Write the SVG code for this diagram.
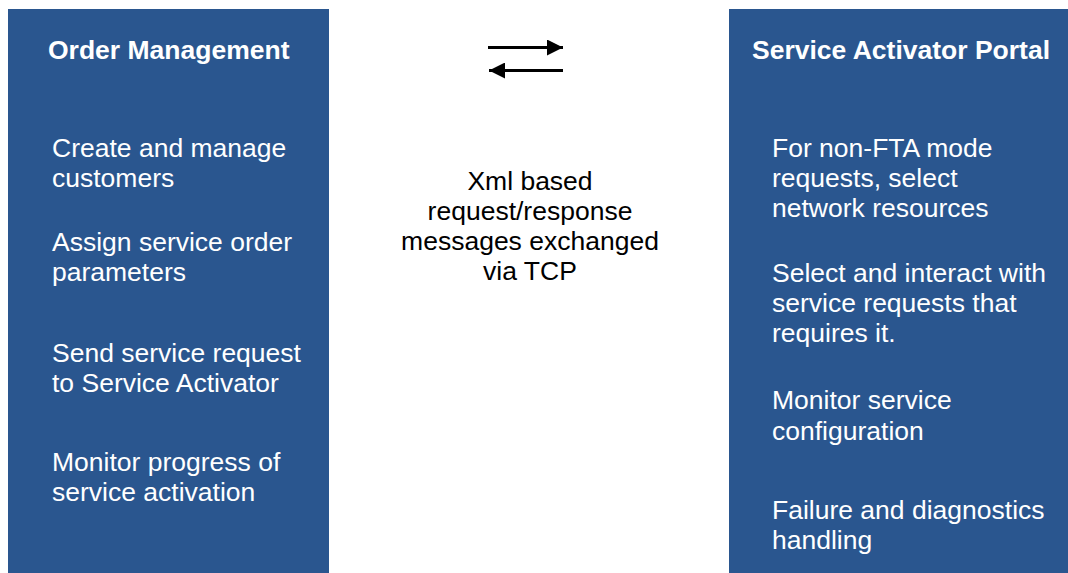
<svg xmlns="http://www.w3.org/2000/svg" width="1068" height="573" viewBox="0 0 1068 573">
<style>
.panel{fill:#2A568F}
.t{font-family:"Liberation Sans",Arial,sans-serif;font-size:26.5px;fill:#ffffff}
.h{font-weight:bold}
.m{font-family:"Liberation Sans",Arial,sans-serif;font-size:26.5px;fill:#000000;text-anchor:middle}
.ln{stroke:#000;stroke-width:3;fill:none}
</style>
<defs>
<marker id="ah" viewBox="0 0 16 16" refX="16" refY="8" markerWidth="16" markerHeight="16" markerUnits="userSpaceOnUse" orient="auto">
<path d="M0,0 L16,8 L0,16 Z" fill="#000"/>
</marker>
</defs>
<rect width="1068" height="573" fill="#ffffff"/>
<g id="order-management">
<rect class="panel" x="8" y="9" width="321" height="564"/>
<text class="t h" x="48" y="59">Order Management</text>
<text class="t" x="52" y="157">Create and manage</text>
<text class="t" x="52" y="187">customers</text>
<text class="t" x="52" y="251">Assign service order</text>
<text class="t" x="52" y="281">parameters</text>
<text class="t" x="52" y="362">Send service request</text>
<text class="t" x="52" y="392">to Service Activator</text>
<text class="t" x="52" y="471">Monitor progress of</text>
<text class="t" x="52" y="501">service activation</text>
</g>
<g id="service-activator-portal">
<rect class="panel" x="729" y="9" width="339" height="564"/>
<text class="t h" x="752" y="59">Service Activator Portal</text>
<text class="t" x="772" y="157">For non-FTA mode</text>
<text class="t" x="772" y="187">requests, select</text>
<text class="t" x="772" y="217">network resources</text>
<text class="t" x="772" y="282">Select and interact with</text>
<text class="t" x="772" y="312">service requests that</text>
<text class="t" x="772" y="342">requires it.</text>
<text class="t" x="772" y="409">Monitor service</text>
<text class="t" x="772" y="440">configuration</text>
<text class="t" x="772" y="519">Failure and diagnostics</text>
<text class="t" x="772" y="549">handling</text>
</g>
<g id="connectors">
<line class="ln" x1="488" y1="47.5" x2="563" y2="47.5" marker-end="url(#ah)"/>
<line class="ln" x1="563" y1="70.5" x2="489" y2="70.5" marker-end="url(#ah)"/>
</g>
<g id="label">
<text class="m" x="530" y="190">Xml based</text>
<text class="m" x="530" y="220">request/response</text>
<text class="m" x="530" y="250">messages exchanged</text>
<text class="m" x="530" y="280">via TCP</text>
</g>
</svg>
